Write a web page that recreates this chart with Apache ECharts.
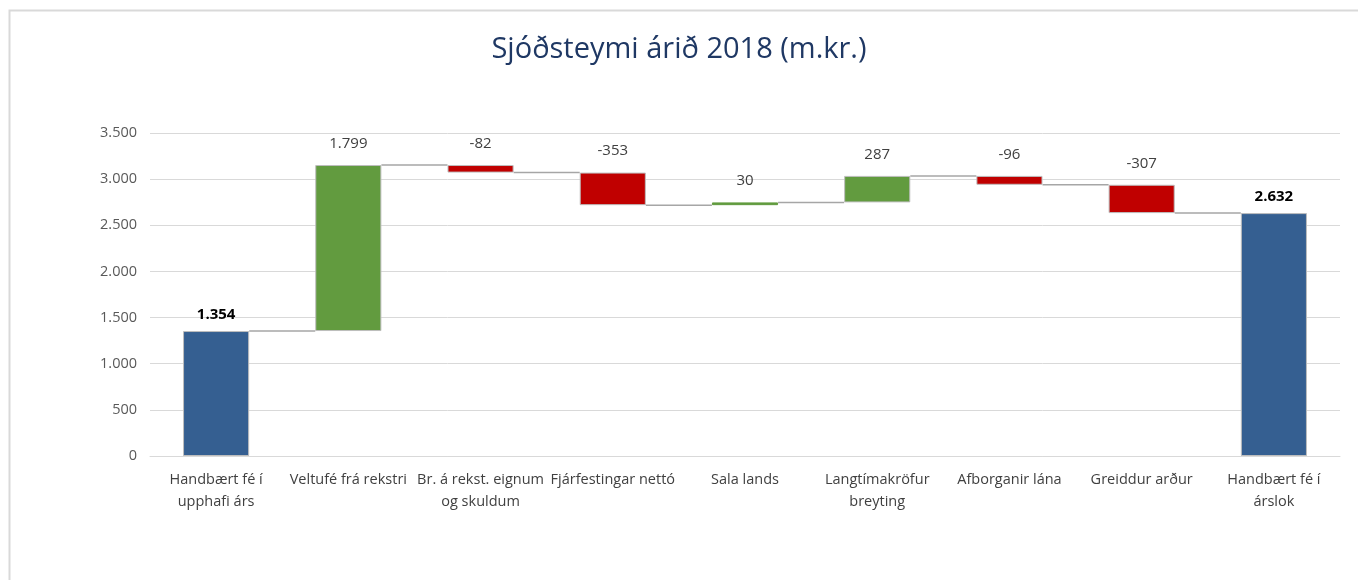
<!DOCTYPE html>
<html>
<head>
<meta charset="utf-8">
<script src="https://cdn.jsdelivr.net/npm/echarts@6/dist/echarts.min.js"></script>
<style>
  html, body { margin: 0; padding: 0; background: #fff; }
  #chart { width: 1358px; height: 580px; }
</style>
</head>
<body>
<div id="chart"></div>
<script>
// flokkar (x-ás)
var categories = [
  "Handbært fé í\nupphafi árs",
  "Veltufé frá rekstri",
  "Br. á rekst. eignum\nog skuldum",
  "Fjárfestingar nettó",
  "Sala lands",
  "Langtímakröfur\nbreyting",
  "Afborganir lána",
  "Greiddur arður",
  "Handbært fé í\nárslok"
];
// breytingar, fyrsti og síðasti eru heildartölur
var values = [1354, 1799, -82, -353, 30, 287, -96, -307, 2632];
var isTotal = [true, false, false, false, false, false, false, false, true];
var yTicks = [0, 500, 1000, 1500, 2000, 2500, 3000, 3500];

var colTotal = "#355f91", colUp = "#629b3f", colDown = "#c00000";

// íslenskur þúsundaskiljari
function fmt(v) {
  var s = String(Math.abs(v)).replace(/\B(?=(\d{3})+(?!\d))/g, ".");
  return (v < 0 ? "-" : "") + s;
}

// reikna grunn og hæð fyrir fossarit
var baseData = [], barData = [], levels = [];
var running = 0;
values.forEach(function (v, i) {
  var color;
  if (isTotal[i]) {
    baseData.push(0);
    barData.push(v);
    running = v;
    color = colTotal;
  } else {
    var end = running + v;
    baseData.push(Math.min(running, end));
    barData.push(Math.abs(v));
    running = end;
    color = v >= 0 ? colUp : colDown;
  }
  levels.push(running);
  barData[i] = {
    value: barData[i],
    itemStyle: { color: color, borderColor: Math.abs(v) < 50 ? color : "#bdbdbd" },
    label: isTotal[i]
      ? { fontWeight: "bold", color: "#000", distance: 9 }
      : { distance: 14 }
  };
});

var connectors = [];
for (var i = 0; i < levels.length - 1; i++) connectors.push([i, levels[i]]);

var chart = echarts.init(document.getElementById("chart"));
var font = "'Open Sans', 'Noto Sans', sans-serif";
var barW = 0.5;

chart.setOption({
  backgroundColor: "#fff",
  animation: false,
  textStyle: { fontFamily: font },
  title: {
    text: "Sjóðsteymi árið 2018 (m.kr.)",
    left: "center",
    top: 30,
    textStyle: { color: "#1f3864", fontSize: 29, fontWeight: "normal", fontFamily: font }
  },
  graphic: [{
    type: "rect",
    shape: { x: 9.5, y: 10.5, width: 1400, height: 700 },
    style: { fill: "none", stroke: "#d9d9d9", lineWidth: 2 },
    silent: true,
    z: -1
  }],
  grid: { left: 150, right: 18, top: 133, bottom: 124, containLabel: false },
  xAxis: {
    type: "category",
    data: categories,
    axisLine: { lineStyle: { color: "#d9d9d9", width: 1 } },
    axisTick: { show: false },
    axisLabel: {
      color: "#404040",
      fontSize: 14.5,
      margin: 13,
      lineHeight: 22,
      interval: 0
    }
  },
  yAxis: {
    type: "value",
    min: 0,
    max: 3500,
    interval: 500,
    axisLine: { show: false },
    axisTick: { show: false },
    splitLine: { lineStyle: { color: "#d9d9d9", width: 1 } },
    axisLabel: {
      color: "#595959",
      fontSize: 14.5,
      margin: 13,
      formatter: function (v) { return yTicks.indexOf(v) >= 0 ? fmt(v) : ""; }
    }
  },
  series: [
    {
      name: "grunnur",
      type: "bar",
      stack: "foss",
      barWidth: barW * 100 + "%",
      itemStyle: { color: "transparent" },
      silent: true,
      data: baseData
    },
    {
      name: "gildi",
      type: "bar",
      stack: "foss",
      barWidth: barW * 100 + "%",
      itemStyle: { borderColor: "#bdbdbd", borderWidth: 1 },
      label: {
        show: true,
        position: "top",
        fontSize: 15,
        color: "#404040",
        formatter: function (p) { return fmt(values[p.dataIndex]); }
      },
      data: barData
    },
    {
      name: "tengilínur",
      type: "custom",
      silent: true,
      z: 3,
      renderItem: function (params, api) {
        var p = api.coord([api.value(0), api.value(1)]);
        var band = api.size([1, 0])[0];
        var half = band * barW / 2;
        return {
          type: "line",
          shape: { x1: p[0] + half, y1: p[1], x2: p[0] + band - half, y2: p[1] },
          style: { stroke: "#a6a6a6", lineWidth: 1.5 }
        };
      },
      encode: { x: 0, y: 1 },
      data: connectors
    }
  ]
});
</script>
</body>
</html>
